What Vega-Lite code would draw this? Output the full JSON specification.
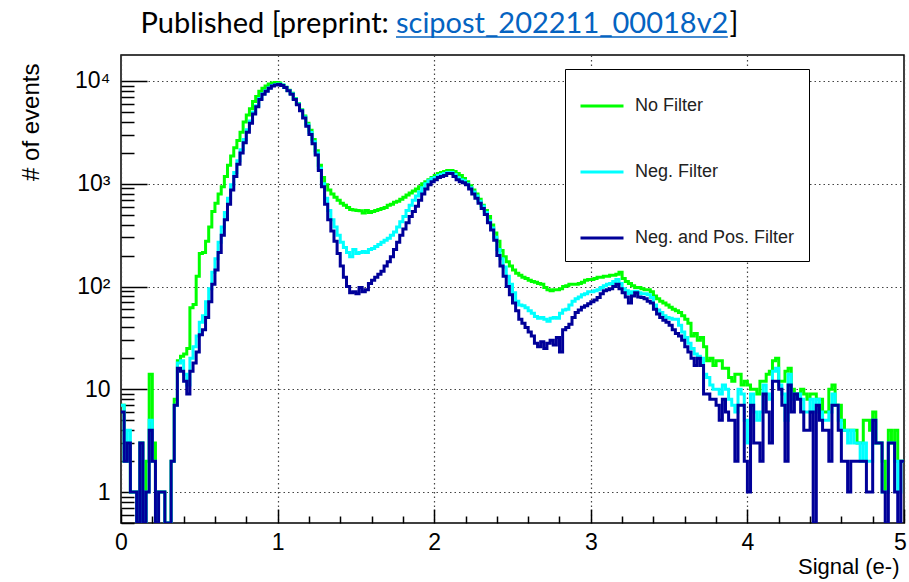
{
"$schema": "https://vega.github.io/schema/vega-lite/v6.json",
"width": 783, "height": 468,
"autosize": "none",
"padding": {"left": 121, "top": 55, "right": 5, "bottom": 59},
"background": "white",
"config": {
  "view": {"stroke": "black", "strokeWidth": 1.5},
  "font": "Liberation Sans",
  "legend": {"orient": "none", "legendX": 444, "legendY": 14, "symbolType": "stroke", "symbolStrokeWidth": 3, "symbolSize": 1849, "labelFontSize": 18, "labelFont": "Liberation Sans", "labelColor": "#222", "padding": 14, "rowPadding": 34, "fillColor": "white", "strokeColor": "black", "labelOffset": 10, "labelLimit": 400}
},
"data": {"values": [
{"x":0,"g":7,"c":7,"b":6},{"x":0.02,"g":2,"c":2,"b":2},{"x":0.04,"g":3,"c":4,"b":3},{"x":0.06,"g":1,"c":1,"b":1},{"x":0.08,"g":1,"c":1,"b":1},
{"x":0.1,"g":0,"c":0,"b":0},{"x":0.12,"g":3,"c":3,"b":3},{"x":0.14,"g":0,"c":0,"b":0},{"x":0.16,"g":2,"c":1,"b":1},{"x":0.18,"g":14,"c":5,"b":4},
{"x":0.2,"g":3,"c":2,"b":2},{"x":0.22,"g":1,"c":0,"b":0},{"x":0.24,"g":1,"c":1,"b":1},{"x":0.26,"g":1,"c":1,"b":1},{"x":0.28,"g":0,"c":0,"b":0},
{"x":0.3,"g":0,"c":0,"b":0},{"x":0.32,"g":2,"c":2,"b":2},{"x":0.34,"g":8,"c":7,"b":7},{"x":0.36,"g":19,"c":18,"b":16},{"x":0.38,"g":21,"c":19,"b":15},
{"x":0.4,"g":22,"c":14,"b":12},{"x":0.42,"g":25,"c":11,"b":9},{"x":0.44,"g":62,"c":20,"b":15},{"x":0.46,"g":67,"c":26,"b":18},{"x":0.48,"g":126,"c":33,"b":23},
{"x":0.5,"g":209,"c":45,"b":34},{"x":0.52,"g":214,"c":52,"b":38},{"x":0.54,"g":275,"c":71,"b":50},{"x":0.56,"g":380,"c":95,"b":71},{"x":0.58,"g":537,"c":138,"b":105},
{"x":0.6,"g":645,"c":186,"b":145},{"x":0.62,"g":794,"c":269,"b":214},{"x":0.64,"g":933,"c":380,"b":316},{"x":0.66,"g":1175,"c":525,"b":447},{"x":0.68,"g":1514,"c":724,"b":631},
{"x":0.7,"g":1862,"c":977,"b":871},{"x":0.72,"g":2239,"c":1288,"b":1175},{"x":0.74,"g":2630,"c":1679,"b":1549},{"x":0.76,"g":3162,"c":2138,"b":1995},{"x":0.78,"g":3981,"c":2692,"b":2512},
{"x":0.8,"g":4677,"c":3350,"b":3162},{"x":0.82,"g":5370,"c":4074,"b":3890},{"x":0.84,"g":6310,"c":4955,"b":4786},{"x":0.86,"g":7079,"c":5754,"b":5623},{"x":0.88,"g":7943,"c":6761,"b":6607},
{"x":0.9,"g":8511,"c":7500,"b":7413},{"x":0.92,"g":8913,"c":8035,"b":7943},{"x":0.94,"g":9333,"c":8610,"b":8511},{"x":0.96,"g":9550,"c":9016,"b":8913},{"x":0.98,"g":9660,"c":9226,"b":9120},
{"x":1,"g":9550,"c":9333,"b":9230},{"x":1.02,"g":9120,"c":9120,"b":9016},{"x":1.04,"g":8710,"c":8710,"b":8650},{"x":1.06,"g":8130,"c":8100,"b":8050},{"x":1.08,"g":7590,"c":7500,"b":7413},
{"x":1.1,"g":6760,"c":6680,"b":6607},{"x":1.12,"g":6030,"c":5960,"b":5888},{"x":1.14,"g":5250,"c":5190,"b":5129},{"x":1.16,"g":4570,"c":4470,"b":4365},{"x":1.18,"g":3890,"c":3760,"b":3631},
{"x":1.2,"g":3310,"c":3160,"b":3020},{"x":1.22,"g":2690,"c":2570,"b":2455},{"x":1.24,"g":2090,"c":1995,"b":1905},{"x":1.26,"g":1510,"c":1413,"b":1349},{"x":1.28,"g":1150,"c":1000,"b":933},
{"x":1.3,"g":977,"c":724,"b":631},{"x":1.32,"g":871,"c":550,"b":447},{"x":1.34,"g":794,"c":447,"b":347},{"x":1.36,"g":741,"c":380,"b":275},{"x":1.38,"g":692,"c":316,"b":209},
{"x":1.4,"g":646,"c":269,"b":158},{"x":1.42,"g":617,"c":240,"b":123},{"x":1.44,"g":589,"c":214,"b":100},{"x":1.46,"g":562,"c":195,"b":87},{"x":1.48,"g":556,"c":229,"b":89},
{"x":1.5,"g":550,"c":209,"b":85},{"x":1.52,"g":545,"c":214,"b":98},{"x":1.54,"g":520,"c":219,"b":89},{"x":1.56,"g":550,"c":214,"b":93},{"x":1.58,"g":525,"c":229,"b":107},
{"x":1.6,"g":537,"c":234,"b":115},{"x":1.62,"g":550,"c":245,"b":123},{"x":1.64,"g":562,"c":257,"b":132},{"x":1.66,"g":575,"c":269,"b":141},{"x":1.68,"g":589,"c":282,"b":158},
{"x":1.7,"g":617,"c":295,"b":174},{"x":1.72,"g":631,"c":316,"b":195},{"x":1.74,"g":661,"c":339,"b":229},{"x":1.76,"g":676,"c":380,"b":269},{"x":1.78,"g":708,"c":427,"b":316},
{"x":1.8,"g":741,"c":479,"b":363},{"x":1.82,"g":776,"c":550,"b":417},{"x":1.84,"g":813,"c":617,"b":479},{"x":1.86,"g":851,"c":692,"b":537},{"x":1.88,"g":891,"c":759,"b":603},
{"x":1.9,"g":933,"c":832,"b":692},{"x":1.92,"g":1000,"c":912,"b":794},{"x":1.94,"g":1047,"c":1000,"b":891},{"x":1.96,"g":1096,"c":1072,"b":977},{"x":1.98,"g":1148,"c":1122,"b":1047},
{"x":2,"g":1202,"c":1148,"b":1096},{"x":2.02,"g":1259,"c":1202,"b":1148},{"x":2.04,"g":1288,"c":1230,"b":1175},{"x":2.06,"g":1318,"c":1259,"b":1202},{"x":2.08,"g":1349,"c":1288,"b":1259},
{"x":2.1,"g":1349,"c":1288,"b":1259},{"x":2.12,"g":1318,"c":1230,"b":1175},{"x":2.14,"g":1259,"c":1148,"b":1096},{"x":2.16,"g":1202,"c":1096,"b":1047},{"x":2.18,"g":1122,"c":1072,"b":1023},
{"x":2.2,"g":1047,"c":1000,"b":977},{"x":2.22,"g":955,"c":912,"b":891},{"x":2.24,"g":871,"c":832,"b":794},{"x":2.26,"g":794,"c":759,"b":724},{"x":2.28,"g":708,"c":676,"b":646},
{"x":2.3,"g":617,"c":603,"b":575},{"x":2.32,"g":550,"c":525,"b":501},{"x":2.34,"g":479,"c":437,"b":417},{"x":2.36,"g":398,"c":372,"b":355},{"x":2.38,"g":331,"c":302,"b":282},
{"x":2.4,"g":275,"c":229,"b":200},{"x":2.42,"g":224,"c":186,"b":158},{"x":2.44,"g":195,"c":155,"b":126},{"x":2.46,"g":174,"c":126,"b":100},{"x":2.48,"g":158,"c":105,"b":83},
{"x":2.5,"g":145,"c":87,"b":69},{"x":2.52,"g":135,"c":72,"b":58},{"x":2.54,"g":129,"c":66,"b":48},{"x":2.56,"g":123,"c":65,"b":44},{"x":2.58,"g":120,"c":62,"b":40},
{"x":2.6,"g":115,"c":58,"b":36},{"x":2.62,"g":112,"c":55,"b":33},{"x":2.64,"g":110,"c":51,"b":28},{"x":2.66,"g":107,"c":49,"b":26},{"x":2.68,"g":105,"c":50,"b":29},
{"x":2.7,"g":98,"c":48,"b":25},{"x":2.72,"g":93,"c":46,"b":28},{"x":2.74,"g":91,"c":49,"b":30},{"x":2.76,"g":93,"c":50,"b":27},{"x":2.78,"g":93,"c":49,"b":32},
{"x":2.8,"g":95,"c":55,"b":23},{"x":2.82,"g":100,"c":59,"b":38},{"x":2.84,"g":102,"c":60,"b":40},{"x":2.86,"g":105,"c":66,"b":43},{"x":2.88,"g":105,"c":72,"b":50},
{"x":2.9,"g":105,"c":76,"b":56},{"x":2.92,"g":107,"c":79,"b":59},{"x":2.94,"g":110,"c":83,"b":63},{"x":2.96,"g":115,"c":85,"b":65},{"x":2.98,"g":117,"c":89,"b":68},
{"x":3,"g":117,"c":89,"b":71},{"x":3.02,"g":120,"c":91,"b":74},{"x":3.04,"g":123,"c":93,"b":78},{"x":3.06,"g":123,"c":98,"b":85},{"x":3.08,"g":126,"c":102,"b":91},
{"x":3.1,"g":126,"c":105,"b":93},{"x":3.12,"g":129,"c":107,"b":95},{"x":3.14,"g":129,"c":112,"b":100},{"x":3.16,"g":132,"c":117,"b":105},{"x":3.18,"g":138,"c":107,"b":95},
{"x":3.2,"g":120,"c":95,"b":87},{"x":3.22,"g":112,"c":91,"b":79},{"x":3.24,"g":107,"c":85,"b":69},{"x":3.26,"g":102,"c":89,"b":81},{"x":3.28,"g":98,"c":90,"b":87},
{"x":3.3,"g":98,"c":87,"b":79},{"x":3.32,"g":95,"c":85,"b":78},{"x":3.34,"g":93,"c":85,"b":76},{"x":3.36,"g":93,"c":83,"b":72},{"x":3.38,"g":89,"c":78,"b":69},
{"x":3.4,"g":81,"c":66,"b":60},{"x":3.42,"g":76,"c":59,"b":54},{"x":3.44,"g":72,"c":56,"b":50},{"x":3.46,"g":69,"c":52,"b":47},{"x":3.48,"g":66,"c":50,"b":45},
{"x":3.5,"g":63,"c":49,"b":42},{"x":3.52,"g":60,"c":48,"b":38},{"x":3.54,"g":58,"c":48,"b":35},{"x":3.56,"g":56,"c":42,"b":33},{"x":3.58,"g":52,"c":36,"b":30},
{"x":3.6,"g":48,"c":32,"b":26},{"x":3.62,"g":44,"c":28,"b":23},{"x":3.64,"g":33,"c":25,"b":20},{"x":3.66,"g":35,"c":22,"b":17},{"x":3.68,"g":30,"c":21,"b":20},
{"x":3.7,"g":32,"c":20,"b":17},{"x":3.72,"g":26,"c":14,"b":9},{"x":3.74,"g":19,"c":13,"b":9},{"x":3.76,"g":20,"c":11,"b":8},{"x":3.78,"g":17,"c":10,"b":8},
{"x":3.8,"g":19,"c":10,"b":7},{"x":3.82,"g":19,"c":9,"b":5},{"x":3.84,"g":16,"c":11,"b":8},{"x":3.86,"g":16,"c":10,"b":6},{"x":3.88,"g":13,"c":8,"b":5},
{"x":3.9,"g":12,"c":7,"b":5},{"x":3.92,"g":14,"c":6,"b":2},{"x":3.94,"g":14,"c":10,"b":7},{"x":3.96,"g":11,"c":9,"b":7},{"x":3.98,"g":12,"c":5,"b":2},
{"x":4,"g":11,"c":3,"b":1},{"x":4.02,"g":10,"c":9,"b":7},{"x":4.04,"g":10,"c":6,"b":3},{"x":4.06,"g":9,"c":5,"b":3},{"x":4.08,"g":12,"c":6,"b":2},
{"x":4.1,"g":12,"c":11,"b":9},{"x":4.12,"g":14,"c":9,"b":6},{"x":4.14,"g":15,"c":8,"b":3},{"x":4.16,"g":19,"c":15,"b":12},{"x":4.18,"g":20,"c":16,"b":12},
{"x":4.2,"g":12,"c":11,"b":10},{"x":4.22,"g":12,"c":9,"b":7},{"x":4.24,"g":15,"c":5,"b":2},{"x":4.26,"g":16,"c":14,"b":11},{"x":4.28,"g":10,"c":8,"b":6},
{"x":4.3,"g":9,"c":9,"b":9},{"x":4.32,"g":9,"c":9,"b":8},{"x":4.34,"g":10,"c":8,"b":6},{"x":4.36,"g":9,"c":6,"b":4},{"x":4.38,"g":8,"c":6,"b":4},
{"x":4.4,"g":9,"c":8,"b":6},{"x":4.42,"g":9,"c":6,"b":0},{"x":4.44,"g":8,"c":8,"b":7},{"x":4.46,"g":8,"c":6,"b":5},{"x":4.48,"g":6,"c":5,"b":4},
{"x":4.5,"g":6,"c":5,"b":4},{"x":4.52,"g":10,"c":6,"b":2},{"x":4.54,"g":11,"c":9,"b":7},{"x":4.56,"g":7,"c":7,"b":7},{"x":4.58,"g":7,"c":5,"b":4},
{"x":4.6,"g":5,"c":4,"b":2},{"x":4.62,"g":4,"c":4,"b":2},{"x":4.64,"g":4,"c":3,"b":1},{"x":4.66,"g":4,"c":4,"b":2},{"x":4.68,"g":4,"c":3,"b":2},
{"x":4.7,"g":3,"c":3,"b":2},{"x":4.72,"g":3,"c":2,"b":2},{"x":4.74,"g":5,"c":3,"b":2},{"x":4.76,"g":5,"c":2,"b":1},{"x":4.78,"g":4,"c":2,"b":1},
{"x":4.8,"g":6,"c":5,"b":5},{"x":4.82,"g":3,"c":3,"b":3},{"x":4.84,"g":3,"c":3,"b":3},{"x":4.86,"g":2,"c":1,"b":1},{"x":4.88,"g":1,"c":1,"b":0},
{"x":4.9,"g":4,"c":3,"b":3},{"x":4.92,"g":3,"c":3,"b":3},{"x":4.94,"g":4,"c":2,"b":1},{"x":4.96,"g":2,"c":1,"b":0},{"x":4.98,"g":2,"c":2,"b":2},
{"x":5,"g":2,"c":2,"b":2}
]},
"resolve": {"axis": {"x": "independent", "y": "independent"}},
"layer": [
  {
    "mark": {"type": "line", "interpolate": "step-after", "strokeWidth": 3, "clip": true},
    "encoding": {
      "x": {"field": "x", "type": "quantitative",
        "scale": {"domain": [0, 5], "nice": false, "zero": false},
        "axis": {"orient": "bottom", "values": [0, 1, 2, 3, 4, 5], "format": "d", "ticks": false, "domain": false,
          "grid": true, "gridDash": [1.5, 3], "gridColor": "#444", "gridWidth": 1.2,
          "labelFontSize": 23, "labelColor": "black", "labelPadding": 8, "labelFlush": false, "labelOverlap": false,
          "labelOffset": {"condition": {"test": "datum.value == 5", "value": -4}, "value": 0},
          "title": "Signal (e-)", "titleFontSize": 22, "titleFontWeight": "normal", "titleColor": "black",
          "titleX": 778, "titleY": 50, "titleAlign": "right", "titleBaseline": "alphabetic", "titleAnchor": null}},
      "y": {"field": "g", "type": "quantitative",
        "scale": {"type": "log", "domain": [0.5, 17900], "nice": false, "clamp": true},
        "axis": {"orient": "left", "values": [1, 10, 100, 1000, 10000],
          "labelExpr": "datum.value == 1 ? '1' : datum.value == 10 ? '10' : datum.value == 100 ? '10²' : datum.value == 1000 ? '10³' : '10⁴'",
          "ticks": false, "domain": false, "grid": true, "gridDash": [1.5, 3], "gridColor": "#444", "gridWidth": 1.2,
          "labelFontSize": 23, "labelColor": "black", "labelPadding": 11, "labelOverlap": false, "labelBound": false, "labelFlush": false,
          "title": "# of events", "titleFontSize": 24, "titleFontWeight": "normal", "titleColor": "black", "titleAngle": -90,
          "titleX": -83, "titleY": 8, "titleAlign": "right", "titleBaseline": "alphabetic"}},
      "color": {"datum": "No Filter", "type": "nominal",
        "scale": {"domain": ["No Filter", "Neg. Filter", "Neg. and Pos. Filter"], "range": ["#00ff00", "#00ffff", "#000099"]},
        "legend": {"title": null}}
    }
  },
  {
    "mark": {"type": "line", "interpolate": "step-after", "strokeWidth": 3, "clip": true},
    "encoding": {
      "x": {"field": "x", "type": "quantitative",
        "axis": {"orient": "bottom", "values": [0, 1, 2, 3, 4, 5], "labels": false, "domain": false, "grid": false,
          "ticks": true, "tickSize": -14, "tickWidth": 1.5, "tickColor": "black", "title": null}},
      "y": {"field": "c", "type": "quantitative",
        "axis": {"orient": "left", "values": [1, 10, 100, 1000, 10000], "labels": false, "domain": false, "grid": false,
          "ticks": true, "tickSize": -26, "tickWidth": 1.5, "tickColor": "black", "title": null}},
      "color": {"datum": "Neg. Filter", "type": "nominal"}
    }
  },
  {
    "mark": {"type": "line", "interpolate": "step-after", "strokeWidth": 3, "clip": true},
    "encoding": {
      "x": {"field": "x", "type": "quantitative",
        "axis": {"orient": "bottom", "values": [0.2, 0.4, 0.6, 0.8, 1.2, 1.4, 1.6, 1.8, 2.2, 2.4, 2.6, 2.8, 3.2, 3.4, 3.6, 3.8, 4.2, 4.4, 4.6, 4.8],
          "labels": false, "domain": false, "grid": false, "ticks": true, "tickSize": -7, "tickWidth": 1.5, "tickColor": "black", "title": null}},
      "y": {"field": "b", "type": "quantitative",
        "axis": {"orient": "left", "values": [0.5, 0.6, 0.7, 0.8, 0.9, 2, 3, 4, 5, 6, 7, 8, 9, 20, 30, 40, 50, 60, 70, 80, 90, 200, 300, 400, 500, 600, 700, 800, 900, 2000, 3000, 4000, 5000, 6000, 7000, 8000, 9000],
          "labels": false, "domain": false, "grid": false, "ticks": true, "tickSize": -13, "tickWidth": 1.5, "tickColor": "black", "title": null}},
      "color": {"datum": "Neg. and Pos. Filter", "type": "nominal"}
    }
  },
  {
    "data": {"values": [{}]},
    "mark": {"type": "text", "text": "Published [preprint:", "align": "right", "baseline": "alphabetic", "font": "Lato", "fontSize": 29, "color": "black", "dy": -22, "clip": false},
    "encoding": {"x": {"datum": 1.71, "type": "quantitative", "axis": null}, "y": {"datum": 17900, "type": "quantitative", "axis": null}}
  },
  {
    "data": {"values": [{}]},
    "mark": {"type": "text", "text": "scipost_202211_00018v2", "align": "left", "baseline": "alphabetic", "font": "Lato", "fontSize": 29, "color": "#0563C1", "dy": -22, "clip": false},
    "encoding": {"x": {"datum": 1.756, "type": "quantitative", "axis": null}, "y": {"datum": 17900, "type": "quantitative", "axis": null}}
  },
  {
    "data": {"values": [{}]},
    "mark": {"type": "text", "text": "]", "align": "left", "baseline": "alphabetic", "font": "Lato", "fontSize": 29, "color": "black", "dy": -22, "clip": false},
    "encoding": {"x": {"datum": 3.885, "type": "quantitative", "axis": null}, "y": {"datum": 17900, "type": "quantitative", "axis": null}}
  },
  {
    "data": {"values": [{}]},
    "mark": {"type": "rule", "color": "#0563C1", "strokeWidth": 1.5, "yOffset": -18, "clip": false},
    "encoding": {"x": {"datum": 1.756, "type": "quantitative", "axis": null}, "x2": {"datum": 3.875}, "y": {"datum": 17900, "type": "quantitative", "axis": null}}
  }
]
}
